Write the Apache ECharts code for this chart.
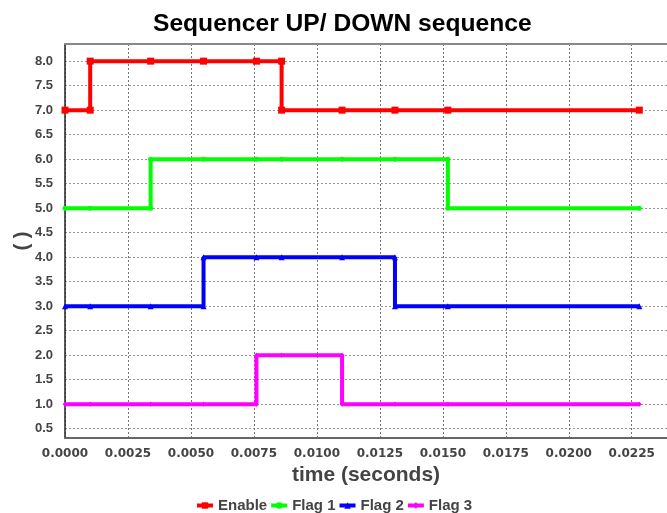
<!DOCTYPE html>
<html>
<head>
<meta charset="utf-8">
<script src="https://cdn.jsdelivr.net/npm/echarts@6/dist/echarts.min.js"></script>
<style>
  html, body { margin: 0; padding: 0; background: #fff; }
  #main { width: 667px; height: 513px; }
</style>
</head>
<body>
<div id="main"></div>
<script>
// sample times (seconds)
var times = [0, 0.001, 0.0034, 0.0055, 0.0076, 0.0086, 0.011, 0.0131, 0.0152, 0.0228];
var enable = [7, 8, 8, 8, 8, 7, 7, 7, 7, 7];
var flag1 = [5, 5, 6, 6, 6, 6, 6, 6, 5, 5];
var flag2 = [3, 3, 3, 4, 4, 4, 4, 3, 3, 3];
var flag3 = [1, 1, 1, 1, 2, 2, 1, 1, 1, 1];
var names = ['Enable', 'Flag 1', 'Flag 2', 'Flag 3'];
var colors = ['#ff0000', '#00ff00', '#0000ff', '#ff00ff'];
var shapes = ['rect', 'circle', 'triangle', 'diamond'];
var sizes = [7, 5, 6, 5];

// a value change shows as a vertical jump at the same time
function steps(vals) {
  var out = [];
  for (var i = 0; i < vals.length; i++) {
    if (i > 0 && vals[i] != vals[i - 1]) out.push([times[i], vals[i - 1]]);
    out.push([times[i], vals[i]]);
  }
  return out;
}

var chart = echarts.init(document.getElementById('main'));

var series = [enable, flag1, flag2, flag3].map(function (v, i) {
  return {
    name: names[i],
    type: 'line',
    data: steps(v),
    symbol: shapes[i],
    symbolSize: sizes[i],
    showAllSymbol: true,
    animation: false,
    itemStyle: { color: colors[i] },
    lineStyle: { color: colors[i], width: 4 }
  };
});

var option = {
  backgroundColor: '#fff',
  title: {
    text: 'Sequencer UP/ DOWN sequence',
    left: 148,
    top: 7,
    textStyle: { fontFamily: 'Liberation Sans', fontWeight: 'bold', fontSize: 24.6, color: '#000' }
  },
  legend: {
    data: names,
    left: 190,
    top: 493,
    itemWidth: 16,
    itemHeight: 8,
    itemGap: 2,
    lineStyle: { width: 4 },
    textStyle: { fontFamily: 'Liberation Sans', fontWeight: 'bold', fontSize: 15, color: '#444' }
  },
  grid: { left: 65, right: 0, top: 44, bottom: 75, outerBoundsMode: 'none' },
  xAxis: [{
    type: 'value',
    min: 0,
    max: 0.0239,
    interval: 0.0025,
    name: 'time (seconds)',
    nameLocation: 'middle',
    nameGap: 27,
    nameTextStyle: { fontFamily: 'Liberation Sans', fontWeight: 'bold', fontSize: 21, color: '#444' },
    axisLine: { lineStyle: { color: '#666', width: 2 } },
    axisTick: { show: false },
    axisLabel: {
      margin: 10,
      fontFamily: 'DejaVu Sans',
      fontWeight: 'bold',
      fontSize: 12,
      color: '#444',
      formatter: function (v) {
        var k = v / 0.0025;
        return Math.abs(k - Math.round(k)) < 1e-6 ? v.toFixed(4) : '';
      }
    },
    splitLine: { show: true, lineStyle: { color: '#777', type: [2, 2], width: 1 } }
  }, {
    type: 'value',
    position: 'top',
    min: 0,
    max: 0.0239,
    axisLine: { lineStyle: { color: '#888', width: 2 } },
    axisTick: { show: false },
    axisLabel: { show: false },
    splitLine: { show: false }
  }],
  yAxis: {
    type: 'value',
    min: 0.31,
    max: 8.35,
    minInterval: 0.5,
    maxInterval: 0.5,
    name: '( )',
    nameLocation: 'middle',
    nameGap: 33,
    nameMoveOverlap: false,
    nameTextStyle: { fontFamily: 'Liberation Sans', fontWeight: 'bold', fontSize: 20, color: '#444' },
    axisLine: { show: true, lineStyle: { color: '#222', width: 1.5 } },
    axisTick: { show: false },
    axisLabel: {
      margin: 12,
      fontFamily: 'Liberation Sans',
      fontWeight: 'bold',
      fontSize: 13,
      color: '#444',
      formatter: function (v) {
        var k = v * 2;
        return Math.abs(k - Math.round(k)) < 1e-6 ? v.toFixed(1) : '';
      }
    },
    splitLine: { show: true, lineStyle: { color: '#999', type: [2, 2], width: 1 } }
  },
  series: series
};

chart.setOption(option);
</script>
</body>
</html>
